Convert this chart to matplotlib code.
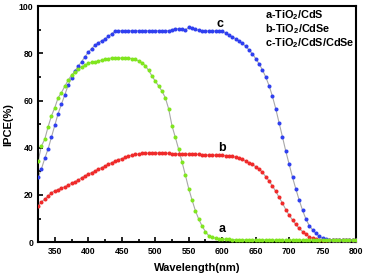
import numpy as np
import matplotlib
matplotlib.use("Agg")
import matplotlib.pyplot as plt

plt.rcParams['font.family'] = ['Liberation Sans', 'DejaVu Sans']
plt.rcParams['font.weight'] = 'bold'
plt.rcParams['mathtext.fontset'] = 'custom'
plt.rcParams['mathtext.rm'] = 'Liberation Sans:bold'
plt.rcParams['mathtext.bf'] = 'Liberation Sans:bold'
plt.rcParams['mathtext.default'] = 'rm'

wavelength = list(range(325, 801, 5))

series_a = [34.3, 40.7, 43.6, 48.9, 53.5, 57.0, 61.2, 63.4, 66.1, 68.6,
            70.8, 72.2, 73.3, 74.3, 74.9, 75.7, 76.2, 76.4, 76.8, 77.1,
            77.5, 77.8, 78.0, 78.0, 78.0, 78.0, 78.0, 77.9, 77.8, 77.4,
            76.8, 76.1, 74.8, 72.8, 70.5, 68.2, 66.2, 64.0, 61.2, 56.5,
            49.3, 44.4, 39.3, 34.0, 28.4, 22.7, 17.8, 13.3, 9.7, 6.8,
            4.4, 2.7, 2.0, 1.7, 1.5, 1.3, 1.2, 1.2, 1.1, 1.1,
            1.1, 1.0, 1.0, 1.0, 1.0, 1.0, 1.0, 1.0, 1.0, 0.9,
            0.9, 0.9, 0.9, 0.9, 0.9, 0.9, 0.9, 0.9, 0.9, 0.9,
            0.8, 0.8, 0.8, 0.8, 0.8, 0.8, 0.8, 0.8, 0.8, 0.8,
            0.8, 0.8, 0.8, 0.8, 0.8, 0.8]

series_b = [15.3, 17.1, 18.2, 19.6, 21.0, 21.7, 22.3, 23.0, 23.4, 24.2,
            24.9, 25.6, 26.3, 27.3, 28.1, 28.8, 29.5, 30.2, 30.9, 31.6,
            32.3, 33.0, 33.7, 34.3, 35.0, 35.4, 35.9, 36.4, 36.9, 37.2,
            37.3, 37.6, 37.7, 37.7, 37.7, 37.8, 37.8, 37.8, 37.8, 37.6,
            37.5, 37.5, 37.4, 37.4, 37.4, 37.3, 37.3, 37.2, 37.2, 37.0,
            37.0, 36.9, 36.9, 36.9, 36.8, 36.8, 36.7, 36.6, 36.3, 36.0,
            35.6, 35.1, 34.4, 33.6, 32.9, 32.0, 31.0, 29.6, 27.8, 25.9,
            23.8, 21.5, 19.0, 16.5, 13.8, 11.4, 9.4, 7.5, 5.8, 4.5,
            3.3, 2.3, 1.7, 1.3, 1.0, 0.9, 0.8, 0.8, 0.8, 0.7,
            0.7, 0.7, 0.7, 0.7, 0.7, 0.7]

series_c = [27.5, 31.0, 35.5, 39.5, 44.5, 49.5, 54.5, 58.5, 62.5, 66.5,
            69.5, 72.5, 74.5, 76.5, 78.5, 80.5, 82.0, 83.5, 84.5, 85.3,
            86.2, 87.2, 88.3, 89.3, 89.6, 89.6, 89.6, 89.6, 89.6, 89.6,
            89.6, 89.6, 89.6, 89.6, 89.6, 89.6, 89.6, 89.6, 89.6, 89.6,
            90.0, 90.4, 90.4, 90.2, 89.9, 91.0, 90.8, 90.2, 89.7, 89.5,
            89.5, 89.5, 89.5, 89.5, 89.5, 89.5, 88.6, 87.8, 87.0, 86.2,
            85.3, 84.2, 83.0, 81.5, 79.8, 77.8, 75.6, 73.0, 70.0, 66.3,
            61.8, 56.5, 50.5, 44.6, 38.5, 33.0, 27.5, 22.5, 17.8, 13.5,
            9.8, 7.0, 5.2, 3.7, 2.5, 1.7, 1.2, 1.0, 0.8, 0.8,
            0.8, 0.8, 0.8, 0.8, 0.8, 0.8]

legend_lines = ["a-TiO$_2$/CdS", "b-TiO$_2$/CdSe", "c-TiO$_2$/CdS/CdSe"]
curve_labels = ["a", "b", "c"]
curve_label_pos = [(600, 5.5), (600, 40.0), (597, 92.5)]

fig = plt.figure(figsize=(3.66, 2.78), dpi=100)
ax = fig.add_axes([0.104, 0.129, 0.869, 0.849])

line_kw = dict(color='#a8a8a8', lw=0.8, zorder=1)
ax.plot(wavelength, series_a, **line_kw)
ax.plot(wavelength, series_b, **line_kw)
ax.plot(wavelength, series_c, **line_kw)
mk = dict(ls='none', marker='o', ms=2.9, mew=0, zorder=3)
ax.plot(wavelength, series_b, color='#f02a2a', **mk)
ax.plot(wavelength, series_c, color='#2f3ff0', **mk)
ax.plot(wavelength, series_a, color='#80e61e', **mk)

ax.set_xlim(325, 800)
ax.set_ylim(0, 100)
ax.set_xticks(range(350, 801, 50))
ax.set_xticks(range(325, 801, 25), minor=True)
ax.set_yticks(range(0, 101, 20))
ax.set_yticks(range(10, 100, 20), minor=True)
ax.tick_params(which='both', direction='in', top=False, right=False,
               labelsize=6.2, width=1.2)
ax.tick_params(which='major', length=3.5, pad=3.5)
ax.tick_params(which='minor', length=2)
for lab in ax.get_xticklabels() + ax.get_yticklabels():
    lab.set_fontweight('bold')
for s in ax.spines.values():
    s.set_linewidth(1.5)

ax.set_xlabel("Wavelength(nm)", fontsize=8, fontweight='bold', labelpad=5)
ax.set_ylabel("IPCE(%)", fontsize=8, fontweight='bold', labelpad=4)

for t, (x, y) in zip(curve_labels, curve_label_pos):
    ax.text(x, y, t, fontsize=9, fontweight='bold', ha='center', va='center')

for i, t in enumerate(legend_lines):
    ax.text(0.715, 0.96 - i * 0.059, t, transform=ax.transAxes,
            fontsize=7.8, fontweight='bold', ha='left', va='center')

fig.savefig("out.png", dpi=100)
